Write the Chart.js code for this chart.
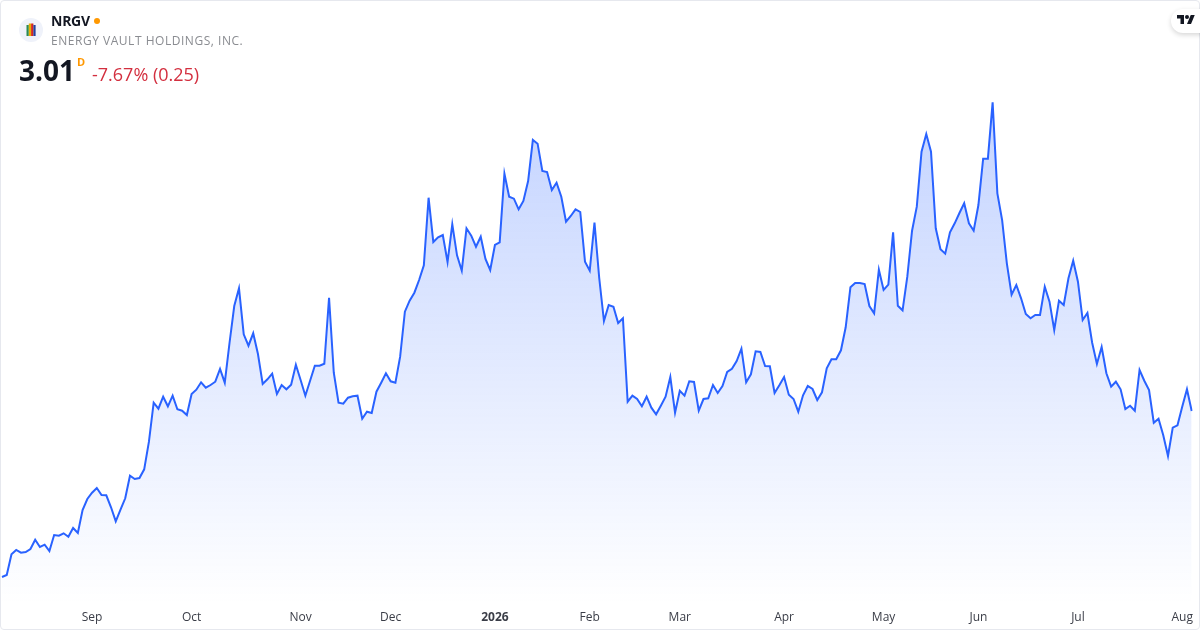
<!DOCTYPE html>
<html><head><meta charset="utf-8">
<style>
html,body{margin:0;padding:0;background:#fff;}
#wrap{position:relative;width:1200px;height:630px;overflow:hidden;font-family:"Open Sans",sans-serif;}
#frame{position:absolute;left:0;top:0;width:1198px;height:628px;border:1px solid #e6e8ee;border-radius:4px;pointer-events:none;}
canvas{position:absolute;left:0;top:0;}
.t{position:absolute;white-space:nowrap;}
</style>
<script src="https://cdn.jsdelivr.net/npm/chart.js@4"></script>
</head><body>
<div id="wrap">
<canvas id="c" width="1200" height="630"></canvas>
<div id="frame"></div>
<svg class="t" style="left:19px;top:18px" width="24" height="24" viewBox="0 0 24 24">
<circle cx="12" cy="12" r="12" fill="#eff2fa"/>
<rect x="7.5" y="7" width="2.3" height="11" fill="#2a8a57"/>
<rect x="9.8" y="5.5" width="2.3" height="12.5" fill="#e8b000"/>
<rect x="12.1" y="5.5" width="2.3" height="12.5" fill="#d42a22"/>
<rect x="14.4" y="7" width="2.2" height="11" fill="#24409f"/>
</svg>
<div class="t" style="left:51px;top:12px;font-size:14px;font-weight:700;letter-spacing:-.25px;color:#131722;line-height:18px">NRGV</div>
<div class="t" style="left:94px;top:18px;width:6px;height:6px;border-radius:50%;background:#ff9800"></div>
<div class="t" style="left:51px;top:32px;font-size:12px;letter-spacing:.53px;color:#8a8c91;line-height:18px">ENERGY VAULT HOLDINGS, INC.</div>
<div class="t" style="left:19px;top:51px;font-size:28px;font-weight:700;color:#131722;line-height:38px">3.01</div>
<div class="t" style="left:77px;top:54px;font-size:11px;font-weight:700;color:#ff9800;line-height:15px">D</div>
<div class="t" style="left:92px;top:62px;font-size:18px;color:#d32f3f;line-height:25px">-7.67% (0.25)</div>
<div class="t" style="left:1171px;top:9px;width:50px;height:24px;border-radius:12px;background:#fff;box-shadow:0 2px 5px rgba(0,0,0,.16)"></div>
<svg class="t" style="left:1177px;top:13px" width="18" height="14" viewBox="0 0 36 28">
<path d="M14 22H7V11H0V4h14v18zM28 22h-8l7.5-18h8L28 22z" fill="#131722"/>
<circle cx="20" cy="8" r="4" fill="#131722"/>
</svg>
</div>
<script>
const prices = [1.35,1.37,1.577,1.62,1.593,1.60,1.63,1.723,1.65,1.673,1.61,1.77,1.763,1.787,1.753,1.84,1.79,2.02,2.13,2.193,
2.24,2.17,2.167,2.047,1.907,2.023,2.137,2.363,2.33,2.34,2.427,2.703,3.093,3.033,3.153,3.057,3.163,3.027,3.013,2.97,
3.18,3.223,3.297,3.243,3.27,3.303,3.43,3.293,3.69,4.06,4.237,3.777,3.663,3.787,3.58,3.28,3.327,3.383,3.18,3.27,
3.227,3.273,3.473,3.32,3.163,3.313,3.463,3.463,3.483,4.143,3.393,3.093,3.083,3.143,3.157,3.163,2.933,3.003,2.99,3.203,
3.293,3.387,3.307,3.293,3.553,4.003,4.113,4.193,4.32,4.467,5.143,4.70,4.747,4.77,4.50,4.877,4.567,4.413,4.837,4.763,
4.653,4.753,4.53,4.42,4.67,4.697,5.383,5.153,5.133,5.027,5.11,5.31,5.72,5.683,5.41,5.40,5.22,5.293,5.153,4.903,
4.96,5.027,5.00,4.503,4.413,4.893,4.34,3.91,4.07,4.053,3.89,3.937,3.103,3.163,3.13,3.057,3.153,3.043,2.977,3.063,
3.153,3.35,2.993,3.213,3.163,3.307,3.30,3.013,3.13,3.137,3.27,3.19,3.26,3.40,3.433,3.51,3.633,3.297,3.377,3.607,
3.60,3.46,3.457,3.19,3.267,3.35,3.173,3.13,3.003,3.167,3.26,3.23,3.12,3.197,3.437,3.527,3.527,3.617,3.847,4.247,
4.29,4.29,4.28,4.06,3.987,4.423,4.22,4.273,4.797,4.063,4.017,4.353,4.813,5.053,5.603,5.78,5.603,4.837,4.627,4.583,
4.797,4.887,4.99,5.087,4.887,4.813,5.07,5.533,5.533,6.097,5.187,4.92,4.487,4.173,4.27,4.137,3.98,3.937,3.97,3.97,
4.253,4.103,3.82,4.113,4.07,4.337,4.513,4.303,3.92,3.99,3.693,3.48,3.65,3.387,3.253,3.303,3.227,3.03,3.063,3.013,
3.42,3.313,3.22,2.893,2.933,2.767,2.56,2.843,2.867,3.053,3.227,3.01];
const tickNames = ['Sep','Oct','Nov','Dec','2026','Feb','Mar','Apr','May','Jun','Jul','Aug'];
const tickSlots = [19,40,63,82,104,124,143,165,186,206,227,249];
const sessions = prices.map((_, i) => i);

const priceMin = 1.07, priceMax = 7.12;
new Chart(document.getElementById('c'), {
  type: 'line',
  data: {
    labels: sessions,
    datasets: [{
      data: prices,
      borderColor: '#2962ff',
      borderWidth: 2,
      borderJoinStyle: 'miter',
      pointRadius: 0,
      tension: 0,
      fill: 'start',
      backgroundColor(ctx) {
        const a = ctx.chart.chartArea;
        if (!a) return 'rgba(41,98,255,.2)';
        const g = ctx.chart.ctx.createLinearGradient(0, 100, 0, a.bottom);
        g.addColorStop(0, 'rgba(41,98,255,0.28)');
        g.addColorStop(1, 'rgba(41,98,255,0)');
        return g;
      }
    }]
  },
  options: {
    responsive: false,
    animation: false,
    devicePixelRatio: 1,
    layout: { padding: { left: 2, right: 8.3, top: 0, bottom: 0 } },
    plugins: { legend: { display: false }, tooltip: { enabled: false } },
    scales: {
      y: { display: false, min: priceMin, max: priceMax },
      x: {
        border: { display: false },
        grid: { display: false, drawTicks: false },
        afterFit(s) { s.height = 25; },
        ticks: {
          autoSkip: false,
          maxRotation: 0,
          padding: 5,
          color: '#3a3d47',
          font: (c) => ({ family: '"Open Sans"', size: 12, weight: c.tick && c.tick.label === '2026' ? 700 : 400 }),
          callback(v, i) {
            const k = tickSlots.indexOf(i);
            return k < 0 ? null : tickNames[k];
          }
        }
      }
    }
  }
});
</script>
</body></html>
